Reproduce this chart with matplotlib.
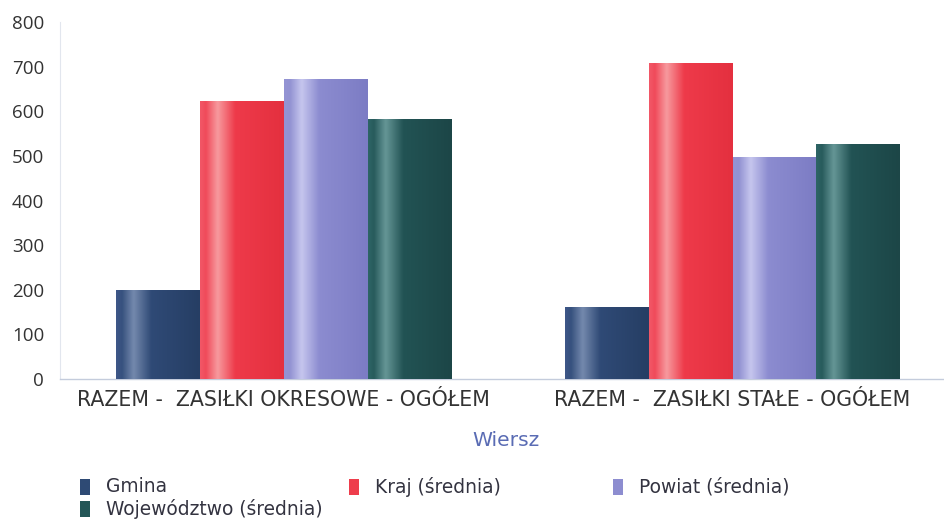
import matplotlib
matplotlib.use("Agg")
import matplotlib.pyplot as plt
import numpy as np
from matplotlib.colors import LinearSegmentedColormap
from matplotlib.patches import Rectangle

plt.rcParams['font.family'] = ['Open Sans', 'DejaVu Sans']

categories = ['RAZEM -  ZASIŁKI OKRESOWE - OGÓŁEM', 'RAZEM -  ZASIŁKI STAŁE - OGÓŁEM']
series = ['Gmina', 'Kraj (średnia)', 'Powiat (średnia)', 'Województwo (średnia)']
gmina = [199, 161]
kraj = [621, 708]
powiat = [672, 497]
wojewodztwo = [582, 526]
values = [gmina, kraj, powiat, wojewodztwo]
yticks = [0, 100, 200, 300, 400, 500, 600, 700, 800]

# cylinder shading: edge, body, highlight, body, shadow
shades = [
    ['#3e5788', '#36517e', '#7489ad', '#2f4a76', '#263e64'],
    ['#f25868', '#f04a5a', '#f79a9e', '#ee3a4a', '#e4303f'],
    ['#9494d4', '#9292d2', '#c6c6ee', '#8c8cd0', '#7c7cc4'],
    ['#2e6566', '#285b5c', '#659696', '#225354', '#1c4647'],
]
base = ['#2e4a74', '#ee3d4c', '#8d8dd0', '#235657']
stops_at = [0, 0.07, 0.21, 0.42, 1]

fig = plt.figure(figsize=(9.44, 5.24), dpi=100)
ax = fig.add_axes([59.5 / 944, 1 - 379 / 524, (944 - 59.5) / 944, 357 / 524])

x = np.arange(len(categories))
width = 0.187
grad = np.linspace(0, 1, 256).reshape(1, -1)

for i, (vals, stops) in enumerate(zip(values, shades)):
    cmap = LinearSegmentedColormap.from_list('c%d' % i, list(zip(stops_at, stops)))
    bars = ax.bar(x + (i - 1.5) * width, vals, width, color=base[i], linewidth=0, zorder=2)
    for b in bars:
        x0, w, h = b.get_x(), b.get_width(), b.get_height()
        ax.imshow(grad, extent=(x0, x0 + w, 0, h), aspect='auto', cmap=cmap,
                  clip_path=b, zorder=3, interpolation='bicubic')

ax.set_xlim(-0.499, 1.471)
ax.set_ylim(0, 800)
ax.set_yticks(yticks)
ax.set_xticks(x)
ax.set_xticklabels(categories, family='DejaVu Sans')
ax.tick_params(axis='y', length=0, pad=11, labelsize=13.5, labelcolor='#333333')
ax.tick_params(axis='x', length=0, pad=8, labelsize=14.8, labelcolor='#333333')

for s in ['top', 'right']:
    ax.spines[s].set_visible(False)
ax.spines['left'].set_color('#e2e6ee')
ax.spines['left'].set_linewidth(0.8)
ax.spines['bottom'].set_color('#c4ccdc')
ax.spines['bottom'].set_linewidth(1.0)

fig.text(506 / 944, 1 - 440 / 524, 'Wiersz', ha='center', va='center',
         fontsize=14.6, color='#5a6cb4', family='DejaVu Sans')

# legend laid out in fixed columns
col_x = [80, 349, 613]
row_y = [487, 509]
for i, name in enumerate(series):
    cx = col_x[i % 3]
    cy = row_y[i // 3]
    fig.patches.append(Rectangle((cx / 944, 1 - (cy + 8) / 524), 10 / 944, 16 / 524,
                                 transform=fig.transFigure, facecolor=base[i],
                                 edgecolor='none'))
    fig.text((cx + 26) / 944, 1 - cy / 524, name, ha='left', va='center',
             fontsize=13.4, color='#333340', family='DejaVu Sans')

fig.savefig('out.png', dpi=100)
